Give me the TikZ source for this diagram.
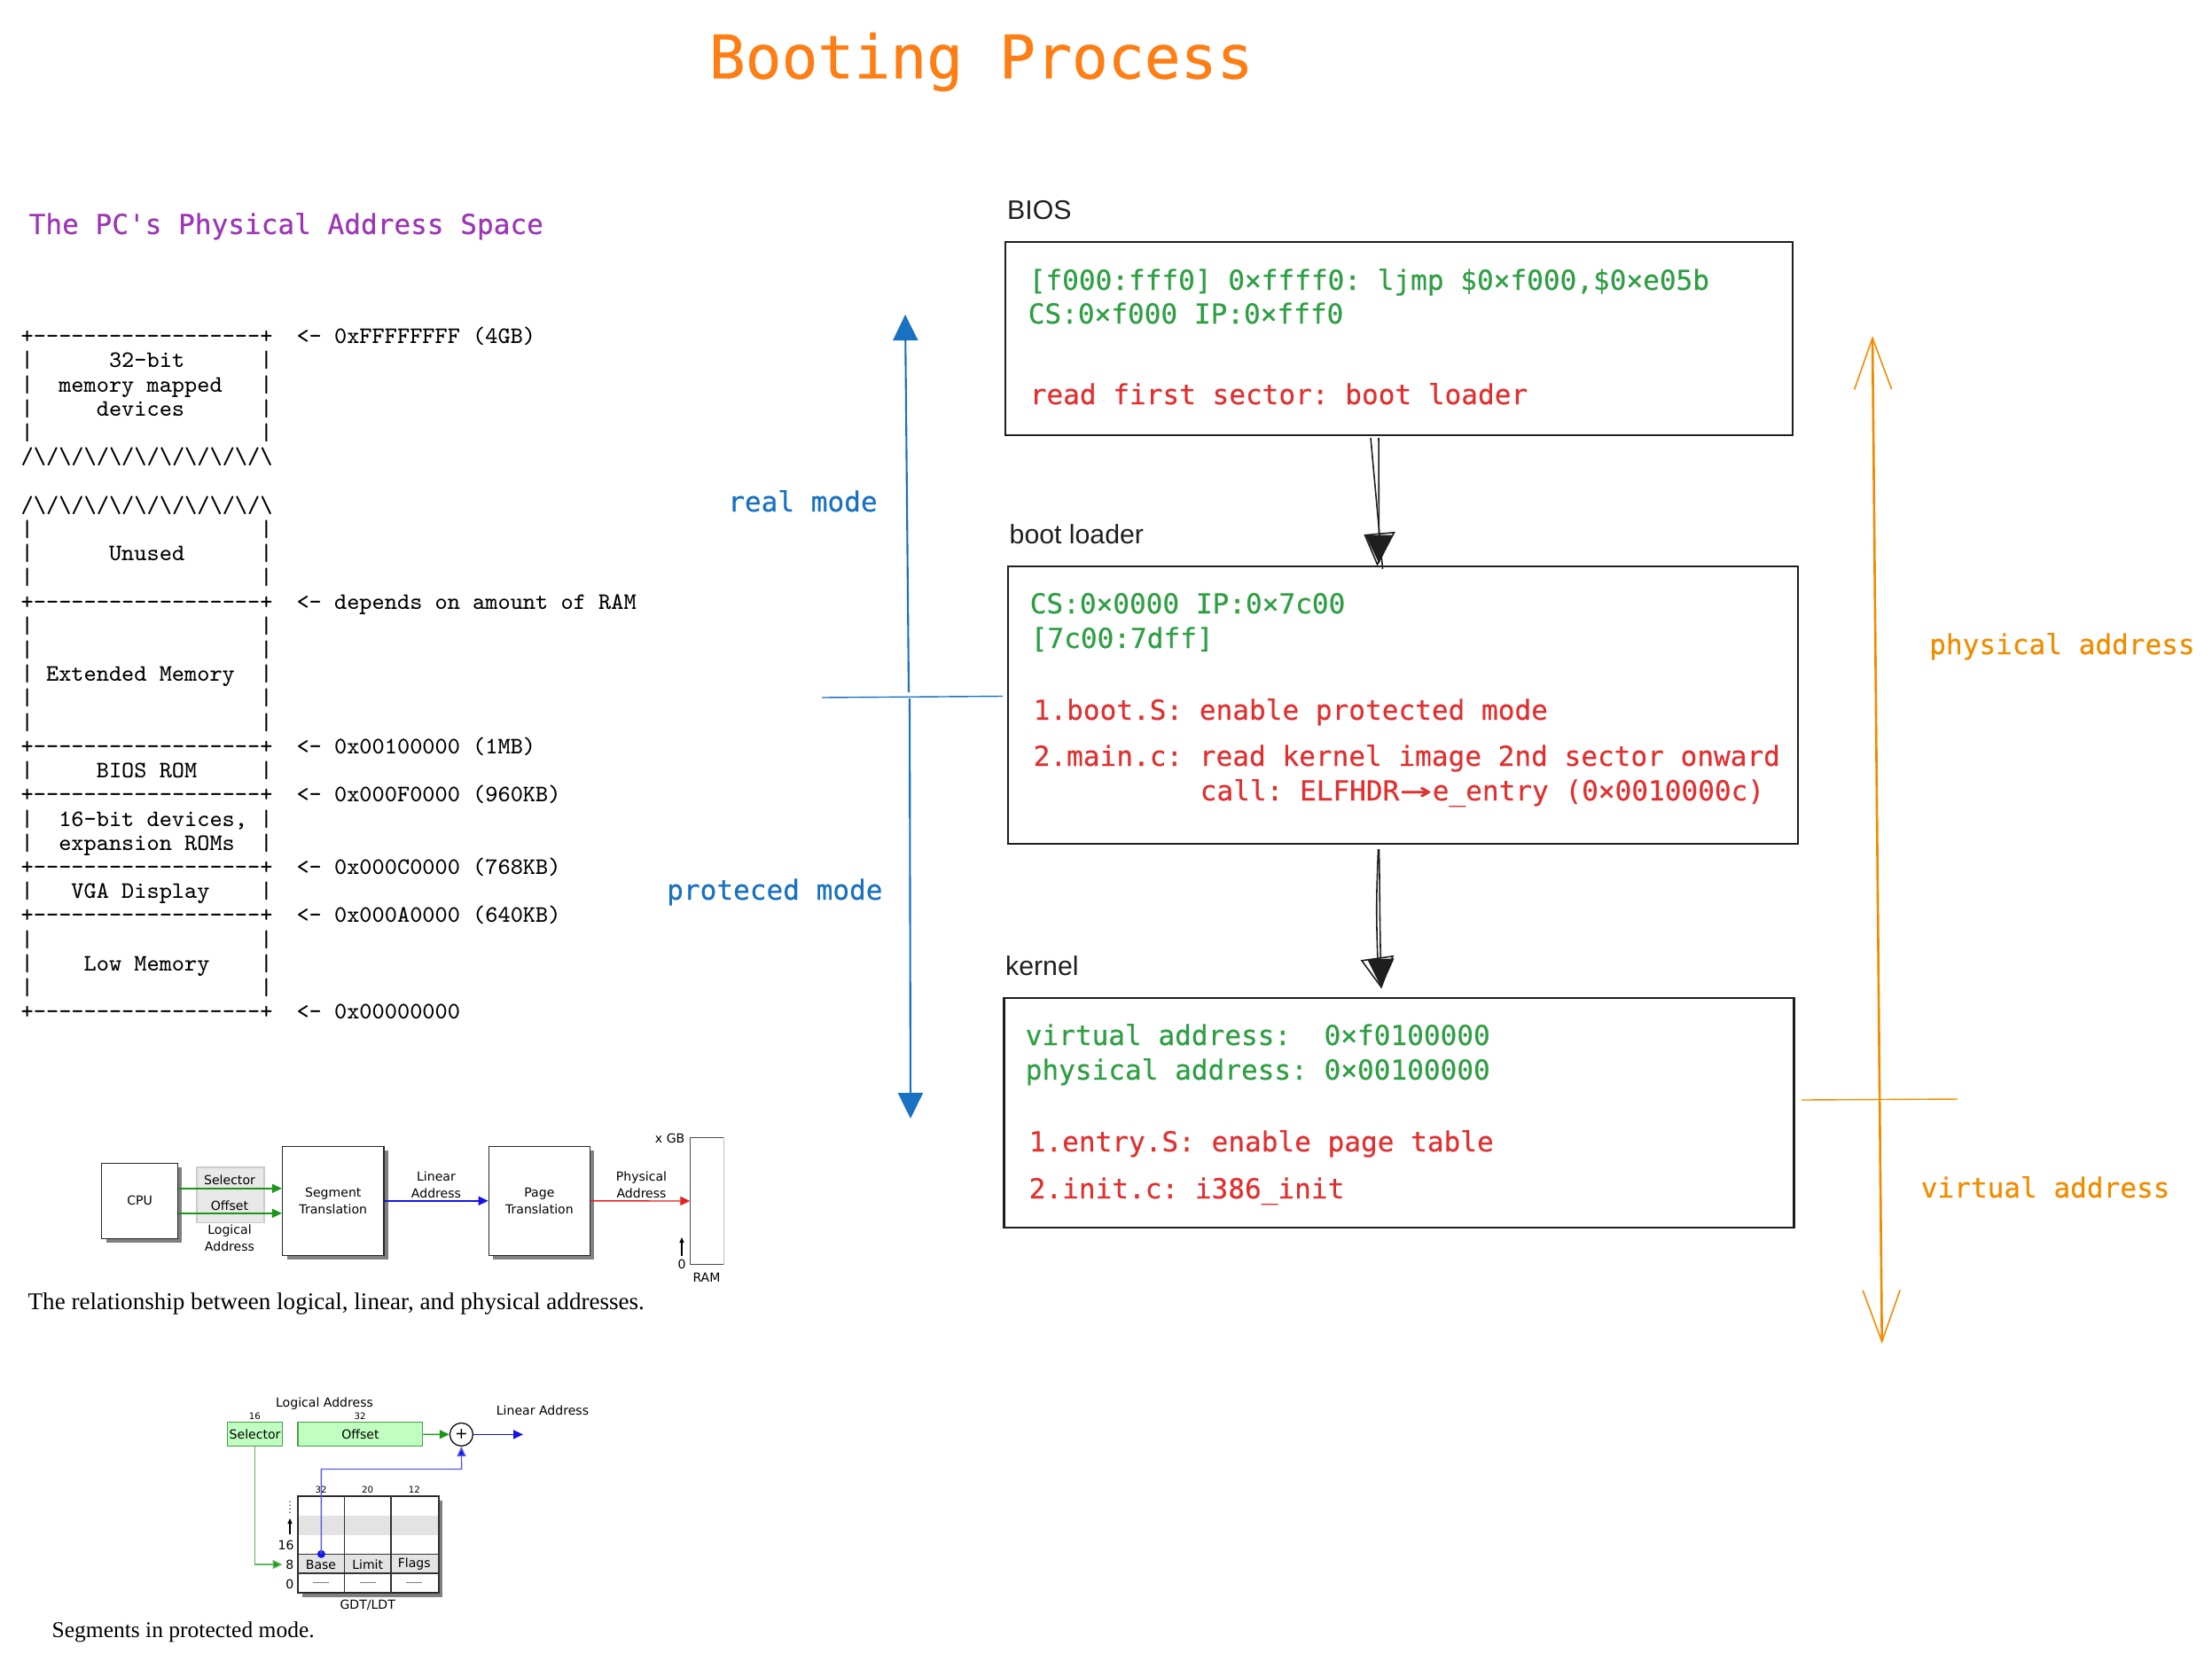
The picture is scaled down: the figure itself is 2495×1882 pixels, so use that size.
\documentclass[tikz,border=0pt]{standalone}
\usepackage{fontspec}
\usetikzlibrary{arrows.meta}
\usetikzlibrary{calc}
\usetikzlibrary{matrix}
\usetikzlibrary{shadows}
\newfontfamily\codefont[FakeBold=0.5]{DejaVu Sans Mono}
\newfontfamily\labelfont{Liberation Sans}
\newfontfamily\figfont{DejaVu Sans}
\newfontfamily\capfont{Liberation Serif}
\definecolor{codegreen}{HTML}{2F9E44}
\definecolor{codered}{HTML}{E03131}
\definecolor{modeblue}{HTML}{1971C2}
\definecolor{addrorange}{HTML}{F08C00}
\definecolor{titleorange}{HTML}{FD7E14}
\definecolor{mapviolet}{HTML}{9C36B5}
\definecolor{inkblack}{HTML}{1E1E1E}
\definecolor{figgreen}{HTML}{1A961A}
\definecolor{figblue}{HTML}{1414E6}
\definecolor{figred}{HTML}{E62020}
\newcommand{\memrow}[1]{\textbar#1\textbar}
\newcommand{\memedge}{+-{}-{}-{}-{}-{}-{}-{}-{}-{}-{}-{}-{}-{}-{}-{}-{}-{}-+}
\newcommand{\memcut}{/\textbackslash/\textbackslash/\textbackslash/\textbackslash/\textbackslash/\textbackslash/\textbackslash/\textbackslash/\textbackslash/\textbackslash}
\tikzset{
  memmap/.style={
    matrix of nodes, nodes in empty cells,
    inner sep=0, row sep=0, column sep=0.27cm,
    nodes={anchor=base west, inner sep=0, text height=0.2cm, text depth=0.072cm,
      font=\ttfamily\fontsize{7.6pt}{7.74pt}\selectfont},
    ampersand replacement=\&
  },
  codebox/.style={draw=inkblack, line width=0.65pt, inner sep=0},
  codeline/.style={anchor=base west, inner sep=0, font=\codefont\frenchspacing\fontsize{8.84pt}{11pt}\selectfont},
  greenline/.style={codeline, text=codegreen},
  redline/.style={codeline, text=codered},
  boxlabel/.style={anchor=base west, inner sep=0, text=inkblack, font=\labelfont\fontsize{8.6pt}{10pt}\selectfont},
  sketchline/.style={draw=inkblack, line width=0.45pt},
  sketchtip/.style={-{Triangle[length=0.32cm,width=0.3cm,fill=inkblack]}},
  modeline/.style={draw=modeblue, line width=0.6pt, -{Triangle[length=0.29cm,width=0.28cm,fill=modeblue]}},
  addrline/.style={draw=addrorange, line width=0.75pt,
    {Straight Barb[length=0.58cm,width=0.42cm,line width=0.45pt]}-{Straight Barb[length=0.58cm,width=0.42cm,line width=0.45pt]}},
  figtext/.style={inner sep=0.03cm, align=center, font=\figfont\fontsize{4pt}{5.3pt}\selectfont},
  figtiny/.style={inner sep=0, font=\figfont\fontsize{2.9pt}{3.5pt}\selectfont},
  figbox/.style={draw=black!85, fill=white, line width=0.4pt, figtext,
    drop shadow={shadow xshift=0.05cm, shadow yshift=-0.05cm, fill=black!50, opacity=1}},
  fieldbox/.style={draw=green!45!black!70, fill=green!25!white, line width=0.35pt, figtext, inner sep=0},
  figarrow/.style={line width=0.4pt, -{Triangle[length=0.11cm,width=0.1cm]}},
  tableline/.style={black!80, line width=0.33pt},
  caption/.style={anchor=base west, inner sep=0, font=\capfont\fontsize{#1}{9pt}\selectfont}
}
\begin{document}
\begin{tikzpicture}[x=0.01cm,y=-0.01cm]
  \useasboundingbox (0,0) rectangle (2495,1882);

  \node[anchor=base west, inner sep=0, text=titleorange, font=\codefont\fontsize{19.33pt}{22pt}\selectfont] (title) at (799,88.5) {Booting Process};
  \node[codeline, text=mapviolet] (maptitle) at (32,264) {The PC's Physical Address Space};

  % memory map
  \matrix (mem) [memmap, anchor=north west] at (23,367) {
\memedge \& <- 0xFFFFFFFF (4GB) \\
\memrow{~~~~~~32-bit~~~~~~} \\
\memrow{~~memory mapped~~~} \\
\memrow{~~~~~devices~~~~~~} \\
\memrow{~~~~~~~~~~~~~~~~~~} \\
\memcut \\
\\
\memcut \\
\memrow{~~~~~~~~~~~~~~~~~~} \\
\memrow{~~~~~~Unused~~~~~~} \\
\memrow{~~~~~~~~~~~~~~~~~~} \\
\memedge \& <- depends on amount of RAM \\
\memrow{~~~~~~~~~~~~~~~~~~} \\
\memrow{~~~~~~~~~~~~~~~~~~} \\
\memrow{~Extended Memory~~} \\
\memrow{~~~~~~~~~~~~~~~~~~} \\
\memrow{~~~~~~~~~~~~~~~~~~} \\
\memedge \& <- 0x00100000 (1MB) \\
\memrow{~~~~~BIOS ROM~~~~~} \\
\memedge \& <- 0x000F0000 (960KB) \\
\memrow{~~16-bit devices,~} \\
\memrow{~~expansion ROMs~~} \\
\memedge \& <- 0x000C0000 (768KB) \\
\memrow{~~~VGA Display~~~~} \\
\memedge \& <- 0x000A0000 (640KB) \\
\memrow{~~~~~~~~~~~~~~~~~~} \\
\memrow{~~~~Low Memory~~~~} \\
\memrow{~~~~~~~~~~~~~~~~~~} \\
\memedge \& <- 0x00000000 \\
  };

  % real / protected mode
  \coordinate (modetop) at (1021,355);
  \coordinate (modebot) at (1027,1262);
  \coordinate (modeupper) at (1025,781);
  \coordinate (modelower) at (1026,788);
  \coordinate (modeleft) at (927,787);
  \coordinate (moderight) at (1131,785.5);
  \draw[modeline] (modeupper) -- (modetop);
  \draw[modeline] (modelower) -- (modebot);
  \draw[draw=modeblue, line width=0.4pt] (modeleft) -- (moderight);
  \node[codeline, text=modeblue] (realmode) at (820.5,577) {real mode};
  \node[codeline, text=modeblue] (protmode) at (751.5,1015) {proteced mode};

  % boxes
  \node[codebox, minimum width=8.875cm, minimum height=2.177cm] (biosbox) at (1578,382) {};
  \node[codebox, minimum width=8.91cm, minimum height=3.13cm] (bootbox) at (1582.5,795.5) {};
  \node[codebox, minimum width=8.905cm, minimum height=2.59cm] (kernelbox) at (1578,1255.5) {};
  \node[boxlabel] (bioslabel) at (1135.5,248) {BIOS};
  \node[boxlabel] (bootlabel) at (1138,613) {boot loader};
  \node[boxlabel] (kernellabel) at (1133.5,1100) {kernel};

  \node[greenline] (biosa) at (1160,327) {[f000:fff0] 0×ffff0: ljmp \$0×f000,\$0×e05b};
  \node[greenline] (biosb) at (1159,365) {CS:0×f000 IP:0×fff0};
  \node[redline] (biosc) at (1161,456) {read first sector: boot loader};

  \node[greenline] (boota) at (1161,692) {CS:0×0000 IP:0×7c00};
  \node[greenline] (bootb) at (1162,731) {[7c00:7dff]};
  \node[redline] (bootc) at (1165,812) {1.boot.S: enable protected mode};
  \node[redline] (bootd) at (1165,864) {2.main.c: read kernel image 2nd sector onward};
  \node[redline] (boote) at (1353,903) {call: ELFHDR\makebox[1.204em]{\scalebox{1.9}[1.1]{→}}e\_entry (0×0010000c)};

  \node[greenline] (kernela) at (1156,1179) {virtual address:~~0×f0100000};
  \node[greenline] (kernelb) at (1156,1218) {physical address: 0×00100000};
  \node[redline] (kernelc) at (1160,1299) {1.entry.S: enable page table};
  \node[redline] (kerneld) at (1160,1352) {2.init.c: i386\_init};

  % hand drawn connectors
  \draw[sketchline] ($(biosbox.south)+(-32,2)$) -- ($(bootbox.north)+(-23,4)$);
  \draw[sketchline, sketchtip] ($(biosbox.south)+(-23,2)$) -- ($(bootbox.north)+(-27,-2)$);
  \draw[sketchline] ($(bootbox.north)+(-43,-34)$) -- ($(bootbox.north)+(-10,-37)$) -- ($(bootbox.north)+(-29,-1)$) -- cycle;
  \draw[sketchline] ($(bootbox.south)+(-28,5)$) .. controls ($(bootbox.south)+(-30,60)$) and ($(kernelbox.north)+(-26,-100)$) .. ($(kernelbox.north)+(-24,-40)$);
  \draw[sketchline, sketchtip] ($(bootbox.south)+(-27,5)$) .. controls ($(bootbox.south)+(-26,60)$) and ($(kernelbox.north)+(-22,-100)$) .. ($(kernelbox.north)+(-20,-11)$);
  \draw[sketchline] ($(kernelbox.north)+(-42,-41)$) -- ($(kernelbox.north)+(-7,-46)$) -- ($(kernelbox.north)+(-20,-11)$) -- cycle;

  % physical / virtual address
  \coordinate (addrtop) at (2112,379);
  \coordinate (addrbot) at (2122.7,1516);
  \coordinate (addrleft) at (2032,1241);
  \coordinate (addrright) at (2208,1240);
  \draw[addrline] (addrbot) -- (addrtop);
  \draw[draw=addrorange, line width=0.4pt] (addrleft) -- (addrright);
  \node[codeline, text=addrorange] (physlabel) at (2175.5,738) {physical address};
  \node[codeline, text=addrorange] (virtlabel) at (2166,1351) {virtual address};

  % address translation
  \node[draw=black!20, fill=black!9, line width=0.3pt, minimum width=0.76cm, minimum height=0.62cm] (logical) at (260,1348) {};
  \node[figbox, minimum width=0.856cm, minimum height=0.85cm] (cpubox) at (157.6,1354.8) {CPU};
  \node[figbox, minimum width=1.142cm, minimum height=1.23cm] (segbox) at (375.8,1354.8) {Segment\\Translation};
  \node[figbox, minimum width=1.139cm, minimum height=1.23cm] (pagebox) at (608.4,1354.8) {Page\\Translation};
  \node[minimum width=0.37cm, minimum height=1.42cm, inner sep=0] (rambox) at (797.5,1355) {};
  \draw[black!70, line width=0.4pt] (rambox.north east) -- (rambox.north west) -- (rambox.south west) -- (rambox.south east);
  \draw[black!25, line width=0.3pt] (rambox.north east) -- (rambox.south east);
  \node[figtext] (selabel) at (259,1331) {Selector};
  \node[figtext] (offlabel) at (259,1360) {Offset};
  \node[figtext] (loglabel) at (259,1397) {Logical\\Address};
  \node[figtext] (linlabel) at (492,1336.5) {Linear\\Address};
  \node[figtext] (phylabel) at (723.5,1336.5) {Physical\\Address};
  \node[figtext, anchor=east, inner sep=0] (xgb) at (773,1284) {x GB};
  \node[figtext] (ramzero) at (769,1426) {0};
  \node[figtext] (ramlabel) at (797,1441) {RAM};
  \draw[figarrow, draw=figgreen, fill=figgreen] ($(cpubox.east)+(0,-14)$) -- ($(segbox.west)+(0,-14)$);
  \draw[figarrow, draw=figgreen, fill=figgreen] ($(cpubox.east)+(0,14)$) -- ($(segbox.west)+(0,14)$);
  \draw[figarrow, draw=figblue, fill=figblue] (segbox) -- (pagebox);
  \draw[figarrow, draw=figred, fill=figred] (pagebox) -- (rambox);
  \draw[line width=0.3pt, -{Triangle[length=0.06cm,width=0.05cm]}] (ramzero.north) -- ($(ramzero.north)+(0,-21)$);
  \node[caption=7.7pt] (capone) at (31,1477) {The relationship between logical, linear, and physical addresses.};

  % segments
  \node[figbox, minimum width=1.58cm, minimum height=1.09cm] (gdtbox) at (415.2,1742.5) {};
  \fill[black!11] (337,1710) rectangle (493.5,1731.5);
  \fill[black!11] (337,1753.3) rectangle (493.5,1775);
  \draw[tableline] (gdtbox.north west) rectangle (gdtbox.south east);
  \draw[tableline] (388.5,1688) -- (388.5,1797);
  \draw[tableline] (441,1688) -- (441,1797);
  \draw[tableline] (336.3,1753.3) -- (494.2,1753.3);
  \draw[tableline] (336.3,1775) -- (494.2,1775);
  \foreach \colx/\bits/\field in {362/32/Base, 414.7/20/Limit, 467.3/12/Flags} {
    \node[figtiny] (bits\field) at (\colx,1680.7) {\bits};
    \node[figtext] (field\field) at (\colx,1765) {\field};
    \draw[black!50, line width=0.4pt] ($(field\field)+(-9,20.5)$) -- ($(field\field)+(9,20.5)$);
  }
  \node[fieldbox, minimum width=0.618cm, minimum height=0.263cm] (selfield) at (287.6,1618) {Selector};
  \node[fieldbox, minimum width=1.408cm, minimum height=0.263cm] (offield) at (406.4,1618) {Offset};
  \node[figtiny] (selbits) at (287.4,1598) {16};
  \node[figtiny] (offbits) at (406,1598) {32};
  \node[figtext] (logaddr) at (366,1583.5) {Logical Address};
  \node[figtext] (linaddr) at (612,1591) {Linear Address};
  \node[draw=black, fill=white, circle, inner sep=0, line width=0.35pt, minimum size=0.26cm, font=\figfont\fontsize{5pt}{5pt}\selectfont] (adder) at (520.4,1618.4) {+};
  \node[figtext] (idx16) at (322.6,1743) {16};
  \node[figtext] (idx8) at (326.8,1765) {8};
  \node[figtext] (idx0) at (326.8,1787) {0};
  \node[figtiny] (idxdots) at (327,1697) {:};
  \node[figtiny] (idxdotsb) at (327,1705) {:};
  \node[figtext] (gdtlabel) at (414.7,1810.5) {GDT/LDT};
  \draw[line width=0.3pt, -{Triangle[length=0.06cm,width=0.05cm]}] (327,1731) -- (327,1713);
  \node[circle, fill=figblue, inner sep=0, minimum size=0.09cm] (basedot) at (362.4,1753.3) {};
  \coordinate (baseelbow) at (520.6,1657.5);
  \coordinate (linearend) at (590,1618.4);
  \draw[figarrow, draw=figgreen, fill=figgreen] (offield) -- (adder);
  \draw[figarrow, draw=figblue, fill=figblue] (adder) -- (linearend);
  \draw[figarrow, draw=figgreen!70, -{Triangle[length=0.11cm,width=0.1cm,fill=figgreen]}] (selfield.south) |- (idx8.west);
  \draw[figarrow, draw=figblue!70, -{Triangle[length=0.11cm,width=0.1cm,fill=figblue]}] (basedot.center) |- (baseelbow) -- (adder.south);
  \node[caption=7.25pt] (captwo) at (58,1847) {Segments in protected mode.};
\end{tikzpicture}
\end{document}
